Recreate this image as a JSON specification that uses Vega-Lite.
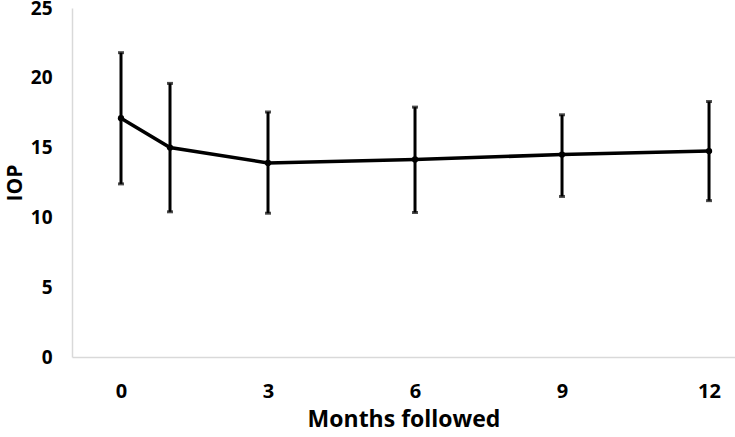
{
  "$schema": "https://vega.github.io/schema/vega-lite/v6.json",
  "width": 663,
  "height": 349,
  "autosize": {"type": "none"},
  "padding": {"left": 72, "top": 8, "right": 0, "bottom": 80},
  "background": "white",
  "config": {"view": {"stroke": null}, "font": "Open Sans"},
  "data": {
    "values": [
      {"month": 0, "iop": 17.1, "lo": 12.4, "hi": 21.8},
      {"month": 1, "iop": 15.0, "lo": 10.4, "hi": 19.6},
      {"month": 3, "iop": 13.9, "lo": 10.3, "hi": 17.55},
      {"month": 6, "iop": 14.15, "lo": 10.35, "hi": 17.9},
      {"month": 9, "iop": 14.5, "lo": 11.5, "hi": 17.35},
      {"month": 12, "iop": 14.75, "lo": 11.2, "hi": 18.3}
    ]
  },
  "encoding": {
    "x": {
      "field": "month", "type": "quantitative",
      "scale": {"domain": [-1, 12.53], "nice": false, "zero": false},
      "axis": {
        "values": [0, 3, 6, 9, 12], "title": "Months followed", "grid": false, "ticks": false,
        "domainColor": "#d9d9d9", "domainWidth": 1.5,
        "labelFont": "Open Sans", "labelFontWeight": "bold", "labelFontSize": 20, "labelColor": "#000",
        "labelPadding": 24, "titleFont": "Open Sans", "titleFontWeight": "bold", "titleFontSize": 23,
        "titleColor": "#000", "titlePadding": 7
      }
    }
  },
  "layer": [
    {
      "mark": {"type": "rule", "color": "black", "strokeWidth": 3},
      "encoding": {
        "y": {"field": "lo", "type": "quantitative",
          "scale": {"domain": [0, 25], "nice": false},
          "axis": {
            "values": [0, 5, 10, 15, 20, 25], "title": "IOP", "grid": false, "ticks": false,
            "domainColor": "#d9d9d9", "domainWidth": 1.5,
            "labelFont": "Open Sans", "labelFontWeight": "bold", "labelFontSize": 19, "labelColor": "#000",
            "labelPadding": 20, "titleFont": "Open Sans", "titleFontWeight": "bold", "titleFontSize": 21,
            "titleColor": "#000", "titlePadding": 5
          }
        },
        "y2": {"field": "hi"}
      }
    },
    {
      "mark": {"type": "tick", "orient": "horizontal", "color": "black", "size": 6, "thickness": 3},
      "encoding": {"y": {"field": "lo", "type": "quantitative"}}
    },
    {
      "mark": {"type": "tick", "orient": "horizontal", "color": "black", "size": 6, "thickness": 3},
      "encoding": {"y": {"field": "hi", "type": "quantitative"}}
    },
    {
      "mark": {"type": "line", "color": "black", "strokeWidth": 3.5},
      "encoding": {"y": {"field": "iop", "type": "quantitative"}}
    },
    {
      "mark": {"type": "circle", "color": "black", "opacity": 1, "size": 40},
      "encoding": {"y": {"field": "iop", "type": "quantitative"}}
    }
  ]
}
